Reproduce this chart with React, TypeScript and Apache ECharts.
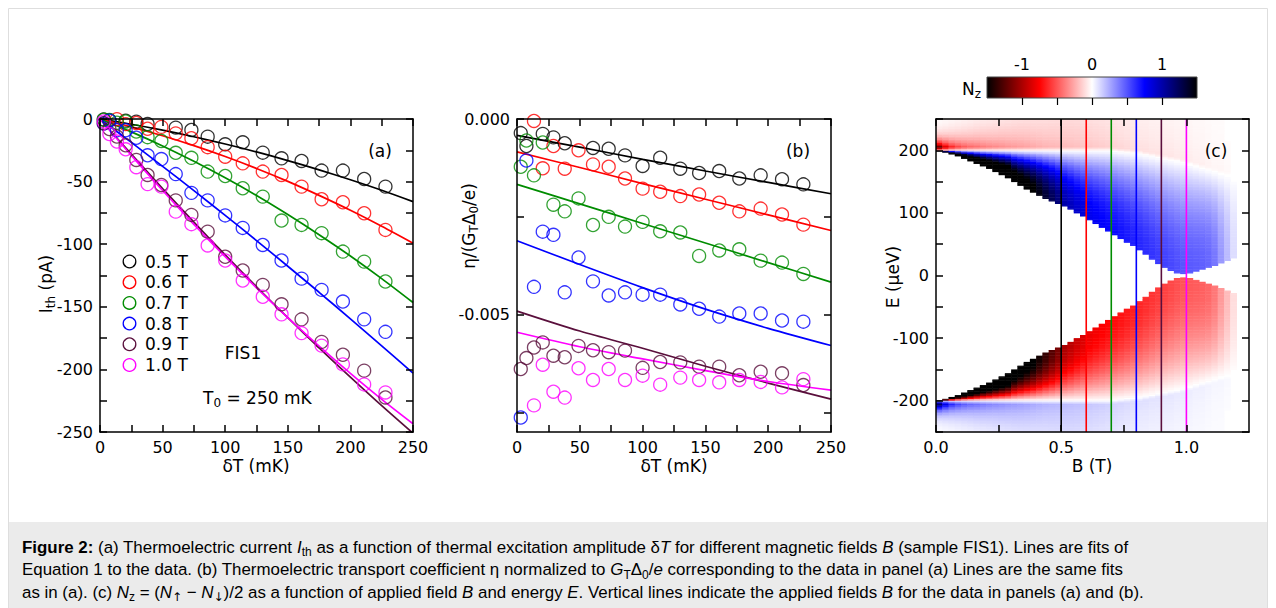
import React, { useEffect, useRef } from "react";
import * as echarts from "echarts";

// ---------- data ----------
const fieldNames = ["0.5 T", "0.6 T", "0.7 T", "0.8 T", "0.9 T", "1.0 T"];
const fieldValues = [0.5, 0.6, 0.7, 0.8, 0.9, 1.0];
const fieldColors = ["#000000", "#ff0000", "#008c00", "#0000ff", "#5a0f3c", "#ff00ff"];

const dT = [3, 7.5, 13.5, 20.5, 29, 38, 49, 60.5, 73, 86, 100, 114, 130, 145, 161, 177, 194, 211, 228];

// panel (a): I_th (pA)
const ith05 = [-0.3, -0.9, null, -1.3, -2.1, -4.0, null, -6.9, -8.8, -14.1, -20.2, -18.6, -26.9, -31.4, -33.5, -41.2, -41.2, -47.9, -54.0];
const ith06 = [null, null, -0.1, -4.1, -3.2, -7.8, -6.3, -11.5, -15.4, -22.5, -30.1, -35.4, -42.0, -44.7, -54.0, -64.1, -66.5, -75.3, -88.6];
const ith07 = [-0.6, -0.7, -3.0, -2.0, -10.0, -14.5, -17.6, -27.0, -31.0, -42.0, -45.5, -55.3, -62.0, -81.1, -84.6, -91.2, -105.9, -113.9, -129.8];
const ith08 = [-3.6, -1.3, -9.0, -9.0, -15.0, -29.0, -32.0, -44.0, -59.0, -65.0, -77.0, -87.0, -100.6, -113.0, -127.5, -136.5, -145.8, -160.0, -170.0];
const ith09 = [-3.4, -8.0, -14.0, -21.0, -32.7, -44.7, -52.7, -65.0, -76.6, -90.0, -110.0, -121.0, -132.5, -148.0, -160.0, -178.0, -188.3, -201.0, -222.4];
const ith10 = [-2.0, -12.0, -18.0, -24.2, -38.5, -52.0, -54.0, -74.0, -84.0, -101.0, -113.0, -129.0, -142.0, -156.0, -171.0, -181.0, -196.0, -212.0, -218.4];

// panel (a) fit lines
const fitTa = [0, 25, 50, 75, 100, 125, 150, 175, 200, 225, 250];
const fitA05 = [0, -4.2, -8.9, -14.2, -20.0, -26.3, -33.2, -40.6, -48.5, -56.9, -66.0];
const fitA06 = [0, -6.3, -13.4, -21.3, -30.0, -39.5, -49.8, -61.0, -72.9, -85.7, -99.2];
const fitA07 = [0, -10.3, -21.5, -33.8, -47.0, -61.1, -76.3, -92.4, -109.4, -127.5, -146.6];
const fitA08 = [0, -18.7, -37.8, -57.2, -77.0, -97.1, -117.6, -138.4, -159.6, -181.2, -203.0];
const fitA09 = [0, -28.1, -55.6, -82.4, -108.5, -134.0, -158.7, -182.8, -206.2, -229.0, -251.0];
const fitA10 = [0, -29.1, -57.1, -84.1, -110.0, -134.9, -158.7, -181.5, -203.2, -223.9, -243.4];

// panel (b): eta / (G_T Delta_0 / e), in units of 1e-3
const eta05 = [-0.36, -0.69, null, -0.38, -0.47, -0.62, null, -0.74, -0.76, -0.93, -1.20, -0.99, -1.27, -1.38, -1.33, -1.52, -1.44, -1.54, -1.67];
const eta06 = [null, null, -0.05, -1.26, -0.69, -1.27, -0.80, -1.16, -1.22, -1.52, -1.78, -1.86, -1.97, -1.93, -2.14, -2.36, -2.29, -2.44, -2.70];
const eta07 = [-1.22, -0.55, -1.44, -0.60, -2.19, -2.36, -2.03, -2.71, -2.50, -2.75, -2.63, -2.87, -2.90, -3.50, -3.36, -3.33, -3.62, -3.67, -3.96];
const eta08 = [-7.63, -1.06, -4.29, -2.88, -2.96, -4.43, -3.54, -4.15, -4.51, -4.43, -4.49, -4.49, -4.74, -4.85, -5.05, -4.97, -4.97, -5.15, -5.18];
const eta09 = [-6.39, -6.11, -5.84, -5.71, -6.05, -6.09, -5.80, -5.91, -5.96, -5.92, -6.36, -6.21, -6.22, -6.33, -6.33, -6.55, -6.46, -6.50, -6.80];
const eta10 = [null, null, -7.32, -6.28, -6.97, -7.12, -6.37, -6.67, -6.39, -6.67, -6.56, -6.79, -6.61, -6.67, -6.73, -6.67, -6.72, -6.86, -6.65];

// panel (b) fit lines (1e-3)
const fitTb = [0, 50, 100, 150, 200, 250];
const fitB05 = [-0.42, -0.72, -1.03, -1.33, -1.62, -1.91];
const fitB06 = [-0.84, -1.24, -1.65, -2.05, -2.45, -2.85];
const fitB07 = [-1.67, -2.17, -2.67, -3.17, -3.67, -4.17];
const fitB08 = [-3.11, -3.72, -4.31, -4.86, -5.35, -5.79];
const fitB09 = [-4.91, -5.42, -5.86, -6.32, -6.75, -7.16];
const fitB10 = [-5.45, -5.82, -6.13, -6.43, -6.71, -6.93];

// panel (c): N_z map, per B column (0.025 T wide) (E > 0 half; E < 0 is antisymmetric)
const columnWidthB = 0.025;
const rowHeightE = 2.5;
const blueEdge = [199, 197, 194, 191, 187, 183, 179, 175, 171, 166, 161, 156, 150, 144, 138, 133, 128, 123, 119, 115, 111, 106, 100, 95, 89, 83, 77, 71, 65, 59, 53, 48, 41, 34, 26, 19, 13, 8, 4, 3, 4, 7, 10, 13, 16, 20, 24, 28];
const blueTop = [200, 200, 200, 200, 200, 200, 200, 200, 200, 200, 200, 200, 200, 200, 200, 200, 200, 200, 200, 200, 200, 200, 200, 200, 200, 200, 200, 200, 199, 198, 197, 196, 195, 193, 191, 189, 187, 185, 183, 181, 178, 175, 172, 169, 166, 163, 160, 157];
const blueAmp = [1.9, 1.9, 1.9, 1.9, 1.9, 1.9, 1.9, 1.9, 1.9, 1.9, 1.9, 1.9, 1.7, 1.65, 1.6, 1.55, 1.45, 1.35, 1.25, 1.15, 1.0, 0.95, 0.9, 0.86, 0.8, 0.78, 0.76, 0.74, 0.72, 0.7, 0.68, 0.66, 0.64, 0.62, 0.6, 0.58, 0.56, 0.54, 0.52, 0.5, 0.49, 0.48, 0.47, 0.45, 0.4, 0.3, 0.2, 0.1];
const redAmp = [2.2, 1.4, 1.0, 0.8, 0.68, 0.6, 0.55, 0.5, 0.46, 0.43, 0.4, 0.37, 0.35, 0.33, 0.31, 0.29, 0.27, 0.25, 0.24, 0.23, 0.22, 0.21, 0.2, 0.19, 0.18, 0.17, 0.16, 0.15, 0.14, 0.13, 0.12, 0.11, 0.1, 0.1, 0.09, 0.09, 0.08, 0.08, 0.07, 0.07, 0.06, 0.05, 0.05, 0.04, 0.03, 0.03, 0.02, 0.01];
const redWidth = [10, 12, 14, 16, 18, 20, 22, 24, 26, 28, 31, 34, 37, 40, 43, 46, 50, 54, 58, 62, 70, 75, 80, 80, 80, 80, 80, 80, 80, 80, 80, 80, 80, 80, 80, 80, 80, 80, 80, 80, 80, 80, 80, 80, 80, 80, 80, 80];

// colour map of N_z
const cmapValues = [-1.5, -0.75, 0, 0.75, 1.5];
const cmapColors = ["#000000", "#ff0000", "#ffffff", "#0000ff", "#000000"];

// tick values
const ticksA_x = [0, 25, 50, 75, 100, 125, 150, 175, 200, 225, 250];
const labelsA_x = [0, 50, 100, 150, 200, 250];
const ticksA_y = [-250, -225, -200, -175, -150, -125, -100, -75, -50, -25, 0];
const labelsA_y = [-250, -200, -150, -100, -50, 0];
const ticksB_y = [-0.0075, -0.005, -0.0025, 0];
const labelsB_y = [-0.005, 0];
const ticksC_x = [0, 0.25, 0.5, 0.75, 1.0];
const labelsC_x = [0, 0.5, 1.0];
const ticksC_y = [-250, -200, -150, -100, -50, 0, 50, 100, 150, 200, 250];
const labelsC_y = [-200, -100, 0, 100, 200];
const ticksCbar = [-1, -0.5, 0, 0.5, 1];
const labelsCbar = [-1, 0, 1];

// ---------- helpers ----------
function hexToRgb(h: string) {
  return [parseInt(h.slice(1, 3), 16), parseInt(h.slice(3, 5), 16), parseInt(h.slice(5, 7), 16)];
}
const cmapRgb = cmapColors.map(hexToRgb);
function colorOf(v: number) {
  const lo = cmapValues[0], hi = cmapValues[cmapValues.length - 1];
  const x = Math.max(lo, Math.min(hi, v));
  let k = 0;
  while (k < cmapValues.length - 2 && x > cmapValues[k + 1]) k++;
  const t = (x - cmapValues[k]) / (cmapValues[k + 1] - cmapValues[k]);
  const a = cmapRgb[k], b = cmapRgb[k + 1];
  const c = [0, 1, 2].map((j) => Math.round(a[j] + (b[j] - a[j]) * t));
  return `rgb(${c[0]},${c[1]},${c[2]})`;
}

function nzAt(i: number, e: number) {
  const edge = blueEdge[i], top = blueTop[i];
  if (e < edge) return 0;
  if (e <= top) {
    const t = top > edge ? (e - edge) / (top - edge) : 1;
    return blueAmp[i] * (1 - t * t);
  }
  const d = e - top;
  return -redAmp[i] * Math.min(1, d / 6) * Math.exp(-d / redWidth[i]);
}

function buildCells() {
  const cells: number[][] = [];
  const nRows = Math.round(250 / rowHeightE);
  for (let i = 0; i < blueEdge.length; i++) {
    const b0 = i * columnWidthB, b1 = b0 + columnWidthB;
    for (let k = 0; k < nRows; k++) {
      const e0 = k * rowHeightE, e1 = e0 + rowHeightE;
      if (e1 <= blueEdge[i]) continue;
      const lo = Math.max(e0, blueEdge[i]);
      const v = nzAt(i, (lo + e1) / 2);
      if (Math.abs(v) < 0.01) continue;
      cells.push([b0, b1, lo, e1, v]);
      cells.push([b0, b1, -e1, -lo, -v]);
    }
  }
  return cells;
}

const FONT = "DejaVu Sans";

function axis(gridIndex: number, position: string, min: number, max: number, ticks: number[], labels: number[] | null, fmt?: (v: number) => string, extra: any = {}) {
  return {
    type: "value",
    gridIndex,
    position,
    min,
    max,
    z: 5,
    axisLine: { show: true, onZero: false, lineStyle: { color: "#000", width: 1.5 } },
    axisTick: { show: true, inside: true, length: 7, customValues: ticks, lineStyle: { color: "#000", width: 1.5 } },
    axisLabel: labels
      ? { show: true, customValues: labels, formatter: fmt, color: "#000", fontFamily: FONT, fontSize: 16, margin: 7 }
      : { show: false },
    splitLine: { show: false },
    ...extra,
  };
}

function pairs(xs: number[], ys: (number | null)[], scale = 1) {
  const out: number[][] = [];
  xs.forEach((x, i) => {
    const y = ys[i];
    if (y !== null && y !== undefined) out.push([x, y * scale]);
  });
  return out;
}

export default function App() {
  const ref = useRef<HTMLDivElement>(null);
  useEffect(() => {
    if (!ref.current) return;
    const chart = echarts.init(ref.current, undefined, { renderer: "svg" });

    const ithSets = [ith05, ith06, ith07, ith08, ith09, ith10];
    const fitASets = [fitA05, fitA06, fitA07, fitA08, fitA09, fitA10];
    const etaSets = [eta05, eta06, eta07, eta08, eta09, eta10];
    const fitBSets = [fitB05, fitB06, fitB07, fitB08, fitB09, fitB10];

    const series: any[] = [];
    fieldNames.forEach((name, k) => {
      const c = fieldColors[k];
      series.push({
        type: "line", name: "fitA " + name, xAxisIndex: 0, yAxisIndex: 0,
        data: pairs(fitTa, fitASets[k]), showSymbol: false, smooth: 0.3, clip: true,
        lineStyle: { color: c, width: 1.7 }, silent: true, z: 3,
      });
      series.push({
        type: "scatter", name, xAxisIndex: 0, yAxisIndex: 0,
        data: pairs(dT, ithSets[k]), symbol: "circle", symbolSize: 13,
        itemStyle: { color: "rgba(0,0,0,0)", borderColor: c, borderWidth: 1.3 }, z: 4,
      });
      series.push({
        type: "line", name: "fitB " + name, xAxisIndex: 1, yAxisIndex: 1,
        data: pairs(fitTb, fitBSets[k], 1e-3), showSymbol: false, smooth: 0.3, clip: true,
        lineStyle: { color: c, width: 1.7 }, silent: true, z: 3,
      });
      series.push({
        type: "scatter", name: "b " + name, xAxisIndex: 1, yAxisIndex: 1,
        data: pairs(dT, etaSets[k], 1e-3), symbol: "circle", symbolSize: 13,
        itemStyle: { color: "rgba(0,0,0,0)", borderColor: c, borderWidth: 1.3 }, z: 4,
      });
      series.push({
        type: "line", name: "c " + name, xAxisIndex: 2, yAxisIndex: 2,
        data: [[fieldValues[k], -250], [fieldValues[k], 250]], showSymbol: false,
        lineStyle: { color: c, width: 1.6 }, silent: true, z: 4,
      });
    });

    series.push({
      type: "custom", name: "Nz", xAxisIndex: 2, yAxisIndex: 2,
      data: buildCells(),
      dimensions: ["b0", "b1", "e0", "e1", "v"],
      encode: { x: [0, 1], y: [2, 3] },
      clip: true, silent: true, z: 1,
      renderItem: (params: any, api: any) => {
        const p0 = api.coord([api.value(0), api.value(3)]);
        const p1 = api.coord([api.value(1), api.value(2)]);
        return {
          type: "rect",
          shape: { x: p0[0], y: p0[1], width: p1[0] - p0[0] + 0.5, height: p1[1] - p0[1] + 0.5 },
          style: { fill: colorOf(api.value(4)) },
        };
      },
    });

    const txt = (x: number, y: number, text: string, opts: any = {}) => ({
      type: "text", x, y, z: 20,
      style: {
        text, fontFamily: FONT, fontSize: 17, fill: "#000",
        align: opts.align || "center", verticalAlign: "middle",
        textAlign: opts.align || "center", textVerticalAlign: "middle",
        rich: opts.rich, ...opts.style,
      },
      rotation: opts.rotation || 0,
    });

    const axRich = {
      n: { fontFamily: FONT, fontSize: 17, lineHeight: 22 },
      s: { fontFamily: FONT, fontSize: 12, lineHeight: 14, verticalAlign: "bottom" },
    };

    const capFont = "Liberation Sans";
    const CS = 16.9;
    const CSS = 12;
    const capRich = {
      n: { fontFamily: capFont, fontSize: CS, lineHeight: 22, fill: "#000" },
      b: { fontFamily: capFont, fontSize: CS, lineHeight: 22, fontWeight: "bold" },
      i: { fontFamily: capFont, fontSize: CS, lineHeight: 22, fontStyle: "italic" },
      s: { fontFamily: capFont, fontSize: CSS, lineHeight: 14, verticalAlign: "bottom" },
      ar: { fontFamily: "DejaVu Sans", fontSize: CSS, lineHeight: 14, verticalAlign: "bottom" },
    };
    const capLines = [
      "{b|Figure 2:}{n| (a) Thermoelectric current }{i|I}{s|th}{n| as a function of thermal excitation amplitude δ}{i|T}{n| for different magnetic fields }{i|B}{n| (sample FIS1). Lines are fits of}",
      "{n|Equation 1 to the data. (b) Thermoelectric transport coefficient η normalized to }{i|G}{s|T}{n|Δ}{s|0}{n|/}{i|e}{n| corresponding to the data in panel (a) Lines are the same fits}",
      "{n|as in (a). (c) }{i|N}{s|z}{n| = (}{i|N}{ar|↑}{n| − }{i|N}{ar|↓}{n|)/2 as a function of applied field }{i|B}{n| and energy }{i|E}{n|. Vertical lines indicate the applied fields }{i|B}{n| for the data in panels (a) and (b).}",
    ];

    const cbarStops = cmapValues.map((v, k) => ({ offset: (v - cmapValues[0]) / (cmapValues[cmapValues.length - 1] - cmapValues[0]), color: cmapColors[k] }));

    const graphics: any[] = [
      { type: "rect", z: 0, shape: { x: 8.5, y: 8.5, width: 1259, height: 610 }, style: { fill: "#fff", stroke: "#dedede", lineWidth: 1 } },
      { type: "rect", z: 1, shape: { x: 9, y: 522, width: 1258, height: 90 }, style: { fill: "#ebebeb" } },
      { type: "rect", z: 2, shape: { x: 987, y: 77, width: 210, height: 21 }, style: { fill: new echarts.graphic.LinearGradient(0, 0, 1, 0, cbarStops), stroke: "#444", lineWidth: 1 } },
      txt(380, 151, "(a)"),
      txt(798, 151, "(b)"),
      txt(1216, 151, "(c)"),
      txt(243, 353, "FIS1"),
      txt(203, 398, "{n|T}{s|0}{n| = 250 mK}", { align: "left", rich: axRich }),
      txt(256, 466, "δT (mK)"),
      txt(674, 466, "δT (mK)"),
      txt(1092, 466, "B (T)"),
      txt(46, 284, "{n|I}{s|th}{n| (pA)}", { rotation: Math.PI / 2, rich: axRich }),
      txt(469, 226, "{n|η/(G}{s|T}{n|Δ}{s|0}{n|/e)}", { rotation: Math.PI / 2, rich: axRich }),
      txt(893, 277, "E (µeV)", { rotation: Math.PI / 2 }),
      txt(962, 89, "{n|N}{s|z}", { align: "left", rich: axRich }),
    ];
    fieldNames.forEach((name, k) => {
      const y = 261.5 + k * 20.7;
      graphics.push({ type: "circle", z: 20, shape: { cx: 129.5, cy: y, r: 6.3 }, style: { fill: "none", stroke: fieldColors[k], lineWidth: 1.3 } });
      graphics.push(txt(145, y, name, { align: "left" }));
    });
    capLines.forEach((line, k) => {
      graphics.push({
        type: "text", x: 22, y: 547 + k * 22.5, z: 20,
        style: { text: line, rich: capRich, align: "left", verticalAlign: "middle", textAlign: "left", textVerticalAlign: "middle", fontFamily: capFont, fontSize: CS },
      });
    });

    const fmtInt = (v: number) => String(v);
    const option: any = {
      animation: false,
      backgroundColor: "#ffffff",
      grid: [
        { left: 100, top: 119, width: 313, height: 313 },
        { left: 517, top: 119, width: 314, height: 313 },
        { left: 936, top: 119, width: 313, height: 313 },
        { left: 987, top: 77, width: 210, height: 21 },
      ],
      xAxis: [
        axis(0, "bottom", 0, 250, ticksA_x, labelsA_x, fmtInt),
        axis(1, "bottom", 0, 250, ticksA_x, labelsA_x, fmtInt),
        axis(2, "bottom", 0, 1.25, ticksC_x, labelsC_x, (v: number) => v.toFixed(1)),
        axis(0, "top", 0, 250, ticksA_x, null),
        axis(1, "top", 0, 250, ticksA_x, null),
        axis(2, "top", 0, 1.25, ticksC_x, null),
        axis(3, "top", -1.5, 1.5, ticksCbar, labelsCbar, fmtInt, {
          z: 10,
          axisLine: { show: false },
          axisLabel: { show: true, customValues: labelsCbar, formatter: fmtInt, color: "#000", fontFamily: FONT, fontSize: 16, margin: 5 },
          axisTick: { show: true, inside: true, length: 7, customValues: ticksCbar, lineStyle: { color: "#000", width: 1.2 } },
        }),
      ],
      yAxis: [
        axis(0, "left", -250, 0, ticksA_y, labelsA_y, fmtInt),
        axis(1, "left", -0.008, 0, ticksB_y, labelsB_y, (v: number) => v.toFixed(3)),
        axis(2, "left", -250, 250, ticksC_y, labelsC_y, fmtInt),
        axis(0, "right", -250, 0, ticksA_y, null),
        axis(1, "right", -0.008, 0, ticksB_y, null),
        axis(2, "right", -250, 250, ticksC_y, null),
        { type: "value", gridIndex: 3, min: 0, max: 1, show: false },
      ],
      graphic: graphics,
      series,
    };
    chart.setOption(option);
    return () => chart.dispose();
  }, []);
  return <div ref={ref} style={{ position: "fixed", left: 0, top: 0, width: 1276, height: 608 }} />;
}
